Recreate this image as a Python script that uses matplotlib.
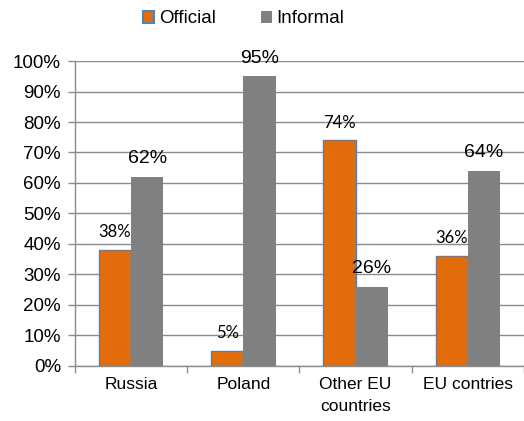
import matplotlib
matplotlib.use("Agg")
from matplotlib import pyplot as plt
from matplotlib.patches import Patch
import numpy as np

plt.rcParams['font.family'] = ['Liberation Sans', 'DejaVu Sans']

categories = ['Russia', 'Poland', 'Other EU\ncountries', 'EU contries']
official = [38, 5, 74, 36]
informal = [62, 95, 26, 64]
yticks = [0, 10, 20, 30, 40, 50, 60, 70, 80, 90, 100]

orange = '#E36C0A'
blue_edge = '#4F81BD'
grey = '#808080'
axis_grey = '#8C8C8C'

fig = plt.figure(figsize=(5.24, 4.21), dpi=100)
ax = fig.add_axes([0.143, 0.131, 0.857, 0.724])

x = np.arange(len(categories))
w = 0.287

bars_off = ax.bar(x - w / 2, official, w, color=orange, edgecolor=blue_edge,
                  linewidth=1.0, zorder=3)
bars_inf = ax.bar(x + w / 2, informal, w, color=grey, edgecolor='none', zorder=3)

for b, v in zip(bars_off, official):
    ax.annotate('%d%%' % v, (b.get_x() + b.get_width() / 2, v),
                xytext=(0, 7), textcoords='offset points',
                ha='center', va='bottom', fontsize=12,
                family=['Lato', 'DejaVu Sans'], zorder=4)

for b, v in zip(bars_inf, informal):
    ax.annotate('%d%%' % v, (b.get_x() + b.get_width() / 2, v),
                xytext=(0, 7), textcoords='offset points',
                ha='center', va='bottom', fontsize=14, zorder=4)

ax.set_xlim(-0.5, len(categories) - 0.5)
ax.set_ylim(0, 100)
ax.set_yticks(yticks)
ax.set_yticklabels(['%d%%' % t for t in yticks], fontsize=13.5)
ax.yaxis.grid(True, color=axis_grey, linewidth=1.0, zorder=0)

ax.set_xticks(x)
ax.set_xticklabels(categories, fontsize=12.5, linespacing=1.55)
ax.tick_params(axis='x', length=0, pad=8)
ax.set_xticks(np.arange(len(categories) + 1) - 0.5, minor=True)
ax.tick_params(axis='x', which='minor', length=5, color=axis_grey, width=1.0)
ax.tick_params(axis='y', length=5, color=axis_grey, width=1.0, pad=5)

for side in ['top', 'right']:
    ax.spines[side].set_visible(False)
for side in ['left', 'bottom']:
    ax.spines[side].set_color(axis_grey)
    ax.spines[side].set_linewidth(1.0)

handles = [Patch(facecolor=orange, edgecolor=blue_edge, linewidth=1.5),
           Patch(facecolor=grey, edgecolor='none')]
fig.legend(handles, ['Official', 'Informal'], loc='center',
           bbox_to_anchor=(0.465, 0.955), ncol=2, frameon=False,
           fontsize=13.5, handlelength=0.6, handleheight=0.6,
           handletextpad=0.25, columnspacing=2.4)

fig.savefig('out.png', dpi=100)
